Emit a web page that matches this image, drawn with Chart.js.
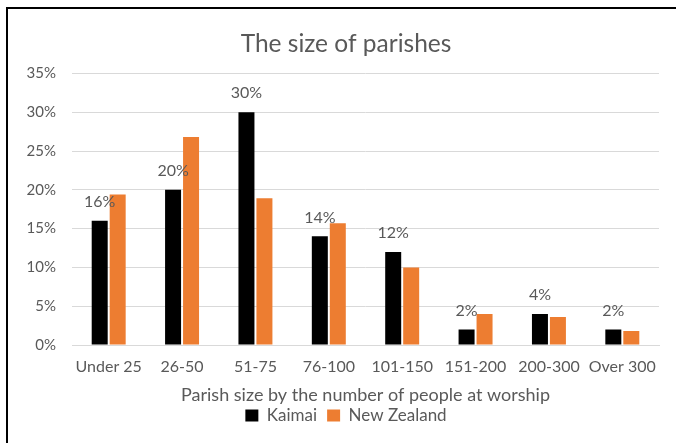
<!DOCTYPE html>
<html>
<head>
<meta charset="utf-8">
<script src="https://cdn.jsdelivr.net/npm/chart.js@4.4.0/dist/chart.umd.min.js"></script>
<style>
  body { margin: 0; background: #fff; }
  #wrap { position: relative; width: 676px; height: 443px; }
  #frame { position: absolute; left: 6px; top: 7px; right: 0; bottom: 0;
           border-top: 2px solid #000; border-left: 2px solid #000; pointer-events: none; }
</style>
</head>
<body>
<div id="wrap">
  <canvas id="parishChart" width="676" height="443"></canvas>
  <div id="frame"></div>
</div>
<script>
var categories = ["Under 25", "26-50", "51-75", "76-100", "101-150", "151-200", "200-300", "Over 300"];
var kaimai = [16, 20, 30, 14, 12, 2, 4, 2];
var newZealand = [19.4, 26.8, 18.9, 15.7, 10.0, 4.0, 3.6, 1.8];
var yTicks = [0, 5, 10, 15, 20, 25, 30, 35];

var textColor = "#595959";
var fontFamily = "Lato, 'Open Sans', sans-serif";

// labels over the Kaimai bars only
var kaimaiLabels = {
  id: "kaimaiLabels",
  afterDatasetsDraw: function(chart) {
    var ctx = chart.ctx;
    var meta = chart.getDatasetMeta(0);
    ctx.save();
    ctx.fillStyle = textColor;
    ctx.font = "16px " + fontFamily;
    ctx.textAlign = "center";
    ctx.textBaseline = "middle";
    meta.data.forEach(function(bar, i) {
      ctx.fillText(kaimai[i] + "%", bar.x, bar.y - 19);
    });
    ctx.restore();
  }
};

var ctx = document.getElementById("parishChart").getContext("2d");
var chart = new Chart(ctx, {
  type: "bar",
  data: {
    labels: categories,
    datasets: [
      { label: "Kaimai", data: kaimai, backgroundColor: "#000000", yAxisID: "y" },
      { label: "New Zealand", data: newZealand, backgroundColor: "#ED7D31", yAxisID: "y" }
    ]
  },
  options: {
    responsive: false,
    animation: false,
    categoryPercentage: 0.49,
    barPercentage: 0.89,
    layout: { padding: { left: 16, right: 0, top: 0, bottom: 9 } },
    plugins: {
      title: {
        display: true,
        text: "The size of parishes",
        color: textColor,
        font: { family: fontFamily, size: 24.5, weight: "normal" },
        padding: { top: 29, bottom: 15 }
      },
      legend: {
        position: "bottom",
        labels: {
          color: textColor,
          font: { family: fontFamily, size: 17 },
          boxWidth: 13,
          boxHeight: 12,
          padding: 10
        }
      },
      tooltip: { enabled: false }
    },
    scales: {
      x: {
        afterFit: function(scale) { scale.height = 52; },
        grid: { display: false, drawTicks: false },
        border: { color: "#d9d9d9", width: 1 },
        ticks: { color: textColor, font: { family: fontFamily, size: 16 }, padding: 12, maxRotation: 0 },
        title: {
          display: true,
          text: "Parish size by the number of people at worship",
          color: textColor,
          font: { family: fontFamily, size: 18 },
          padding: { top: 0, bottom: -9 }
        }
      },
      y: {
        min: 0,
        max: 35,
        afterFit: function(scale) { scale.width = 56; },
        afterBuildTicks: function(scale) {
          scale.ticks = yTicks.map(function(v) { return { value: v }; });
        },
        grid: { color: "#d9d9d9", drawTicks: false },
        border: { display: false },
        ticks: {
          color: textColor,
          font: { family: fontFamily, size: 15 },
          padding: 16,
          callback: function(v) { return v + "%"; }
        }
      },
      // empty right margin so the plot stops short of the edge
      yRight: {
        position: "right",
        afterFit: function(scale) { scale.width = 17; },
        grid: { display: false, drawTicks: false },
        border: { display: false },
        ticks: { display: false }
      }
    }
  },
  plugins: [kaimaiLabels]
});
</script>
</body>
</html>
